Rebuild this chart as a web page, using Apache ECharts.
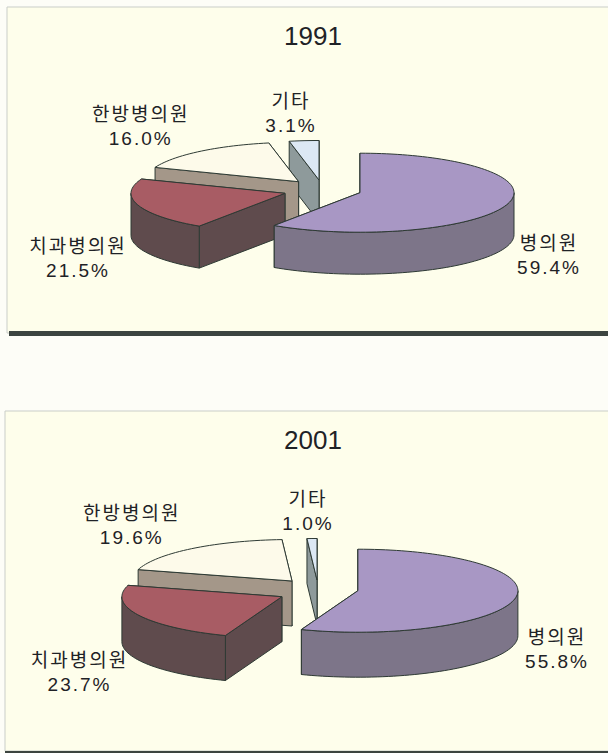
<!DOCTYPE html>
<html><head><meta charset="utf-8">
<style>html,body{margin:0;padding:0;background:#fdfdf7}#c{width:608px;height:753px}
#c text[style*="19px"]{letter-spacing:2px}</style>
<script src="https://cdn.jsdelivr.net/npm/echarts@6/dist/echarts.min.js"></script>
</head><body><div id="c"></div>
<script>
const categories = ['병의원', '치과병의원', '한방병의원', '기타'];
const years = ['1991', '2001'];
const values1991 = [59.4, 21.5, 16.0, 3.1];
const values2001 = [55.8, 23.7, 19.6, 1.0];

const topColors = ['#a897c4', '#a85c64', '#fdfaea', '#dce8f4'];
const wallColors = ['#7d7589', '#5f4b4d', '#a49789', '#8e9a9b'];
const lineColor = '#2e3a34';

const layouts = [
  { rx:154, ry:39.5, depth:42, apex:[[360,192.7],[285,193.3],[298.6,181.7],[319,180]],
    labels:[[549,255.5],[78,258.5],[140.7,126.5],[291,113.7]], titleTop:24 },
  { rx:160, ry:41.5, depth:45, apex:[[357.9,590.7],[281.9,596.7],[292,581],[317,580]],
    labels:[[557,649.5],[79.5,672.8],[131.8,525],[308,511.7]], titleTop:428 }
];

function pt(c, L, deg, dy) {
  const a = deg * Math.PI / 180;
  return [c[0] + L.rx * Math.sin(a), c[1] - L.ry * Math.cos(a) + (dy || 0)];
}
function arc(c, L, a0, a1, dy) {
  const n = Math.max(2, Math.ceil(Math.abs(a1 - a0) / 2)), out = [];
  for (let i = 0; i <= n; i++) out.push(pt(c, L, a0 + (a1 - a0) * i / n, dy));
  return out;
}
const strokeStyle = fill => ({ fill, stroke: lineColor, lineWidth: 1, lineJoin: 'round' });
function poly(points, fill) { return { type:'polygon', shape:{points}, style:strokeStyle(fill) }; }

function pieSeries(values, L) {
  const sum = values.reduce((a, b) => a + b, 0);
  const starts = []; let acc = 0;
  values.forEach(v => { starts.push(acc); acc += v / sum * 360; });
  return {
    type:'custom', coordinateSystem:'none', silent:true, animation:false,
    data: values.map((v, i) => [i, v]).reverse(),
    renderItem(params, api) {
      const i = api.value(0), v = api.value(1);
      const a0 = starts[i], a1 = a0 + v / sum * 360, c = L.apex[i], d = L.depth;
      const children = [];
      const p0 = pt(c, L, a0), p1 = pt(c, L, a1);
      children.push(poly([c, p1, [p1[0], p1[1] + d], [c[0], c[1] + d]], wallColors[i]));
      children.push(poly([c, p0, [p0[0], p0[1] + d], [c[0], c[1] + d]], wallColors[i]));
      const f0 = Math.max(a0, 90), f1 = Math.min(a1, 270);
      if (f1 > f0) children.push(poly(arc(c, L, f0, f1, 0).concat(arc(c, L, f1, f0, d)), wallColors[i]));
      children.push(poly([c].concat(arc(c, L, a0, a1, 0)), topColors[i]));
      children.push({ type:'text', style:{
        x:L.labels[i][0], y:L.labels[i][1], text:categories[i] + '\n' + v.toFixed(1) + '%',
        align:'center', verticalAlign:'middle', lineHeight:24,
        font:'19px "Liberation Sans","Noto Sans CJK KR",sans-serif', fill:'#1f2226' } });
      return { type:'group', children };
    }
  };
}

const chart = echarts.init(document.getElementById('c'), null, { renderer:'svg', width:608, height:753 });
chart.setOption({
  animation:false,
  backgroundColor:'#fdfdf7',
  title: years.map((y, i) => ({
    text:y, left:308, top:layouts[i].titleTop - 6, textAlign:'center',
    textStyle:{ fontFamily:'Liberation Sans', fontSize:26, fontWeight:'normal', color:'#1f2226' } })),
  graphic:[
    { type:'rect', z:-1, shape:{x:7,y:7,width:610,height:326}, style:{fill:'#fefeeb',stroke:'#c9cdc8',lineWidth:1} },
    { type:'rect', z:-1, shape:{x:9,y:331,width:600,height:5}, style:{fill:'#3c4440'} },
    { type:'rect', z:-1, shape:{x:5,y:411,width:610,height:340}, style:{fill:'#fefeeb',stroke:'#c9cdc8',lineWidth:1} },
    { type:'rect', z:-1, shape:{x:5,y:751,width:603,height:2}, style:{fill:'#3c4440'} }
  ],
  series:[ pieSeries(values1991, layouts[0]), pieSeries(values2001, layouts[1]) ]
});
</script></body></html>
